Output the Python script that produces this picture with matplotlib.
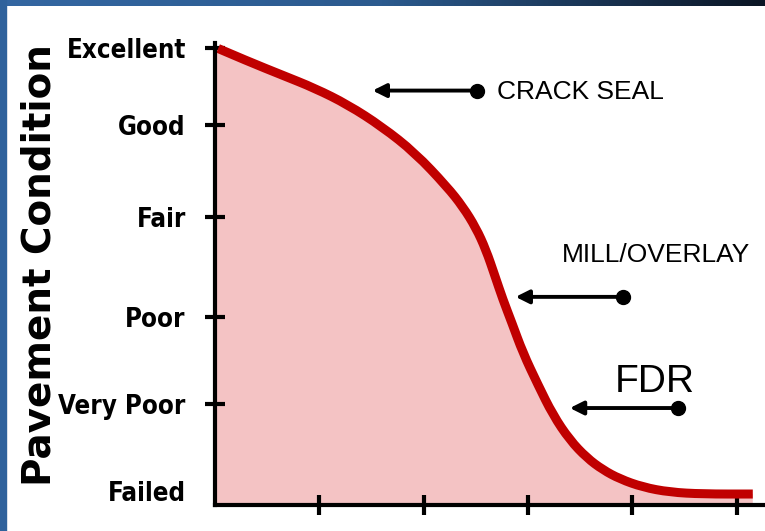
import numpy as np
import matplotlib
matplotlib.use("Agg")
import matplotlib.pyplot as plt
from matplotlib.patches import Rectangle, PathPatch
from matplotlib.path import Path
from matplotlib.colors import LinearSegmentedColormap

# condition levels (0 = failed ... 100 = excellent)
cond_labels = ["Excellent", "Good", "Fair", "Poor", "Very Poor", "Failed"]
cond_levels = [100, 83, 63, 41, 22, 3]
x_ticks = [1, 2, 3, 4, 5]

# deterioration curve
age = [0.03, 0.316, 0.642, 0.958, 1.274, 1.600, 1.916, 2.222, 2.375, 2.500,
       2.596, 2.682, 2.759, 2.845, 2.950, 3.094, 3.238, 3.400, 3.563, 3.716, 3.879,
       4.100, 4.358, 4.674, 5.153]
condition = [99.8, 97.0, 94.0, 91.1, 87.5, 82.7, 77.0, 69.6, 65.2, 60.6,
             55.8, 50.1, 44.9, 39.8, 33.3, 26.3, 19.7, 14.2, 10.3, 7.7, 5.7,
             3.9, 2.8, 2.4, 2.4]

# treatments: label, arrow head, dot, text position
treat_names = ["CRACK SEAL", "MILL/OVERLAY", "FDR"]
treat_head_x = [1.51, 2.88, 3.40]
treat_dot_x = [2.51, 3.91, 4.44]
treat_y = [90.6, 45.5, 21.2]
treat_text_x = [2.70, 3.32, 3.83]
treat_text_y = [90.2, 54.7, 26.9]
treat_size = [19, 19, 28]


def smooth_path(xs, ys):
    # quadratic bezier through midpoints, points act as control points
    pts = np.column_stack([xs, ys])
    verts = [pts[0]]
    codes = [Path.MOVETO]
    for i in range(1, len(pts) - 1):
        mid = (pts[i] + pts[i + 1]) / 2
        verts += [pts[i], mid]
        codes += [Path.CURVE3, Path.CURVE3]
    verts.append(pts[-1])
    codes.append(Path.LINETO)
    return verts, codes


fig = plt.figure(figsize=(7.65, 5.31), dpi=100)

# blue frame (left band + gradient top band)
fig.patches.append(Rectangle((0, 0), 6 / 765, 1, transform=fig.transFigure,
                             color="#2f629c", zorder=0))
bar = fig.add_axes([0, 1 - 6 / 531, 1, 6 / 531])
cm = LinearSegmentedColormap.from_list("frame", ["#3467a2", "#2b5a8e", "#0b1524"])
bar.imshow(np.linspace(0, 1, 256)[None, :], aspect="auto", cmap=cm)
bar.axis("off")

ax = fig.add_axes([215 / 765, 26 / 531, 550 / 765, 462 / 531])
ax.set_xlim(0, 5.27)
ax.set_ylim(0, 101)

verts, codes = smooth_path(age, condition)
fill_verts = [(0, 0), (0, condition[0])] + verts + [(age[-1], 0), (0, 0)]
fill_codes = [Path.MOVETO, Path.LINETO, Path.LINETO] + codes[1:] + [Path.LINETO, Path.CLOSEPOLY]
ax.add_patch(PathPatch(Path(fill_verts, fill_codes), facecolor="#f4c3c4", lw=0, zorder=1))
ax.add_patch(PathPatch(Path(verts, codes), facecolor="none", edgecolor="#c00000",
                       lw=6.5, capstyle="butt", joinstyle="round", zorder=3))

for s in ["top", "right"]:
    ax.spines[s].set_visible(False)
for s in ["left", "bottom"]:
    ax.spines[s].set_linewidth(3)
    ax.spines[s].set_zorder(4)

ax.set_yticks(cond_levels)
ax.set_yticklabels(cond_labels, family="DejaVu Sans", fontstretch="condensed",
                   fontweight="bold", fontsize=18.5)
ax.set_xticks(x_ticks)
ax.set_xticklabels([])
ax.tick_params(axis="both", direction="inout", length=14, width=3)
ax.tick_params(axis="y", pad=14)
ax.yaxis.get_major_ticks()[-1].tick1line.set_visible(False)

for name, hx, dx, y, tx, ty, fs in zip(treat_names, treat_head_x, treat_dot_x,
                                        treat_y, treat_text_x, treat_text_y, treat_size):
    ax.annotate("", xy=(hx, y), xytext=(dx, y),
                arrowprops=dict(arrowstyle="-|>,head_length=0.8,head_width=0.4",
                                color="black", lw=2.8, shrinkA=0, shrinkB=0))
    ax.plot(dx, y, "o", color="black", ms=10, zorder=5)
    ax.text(tx, ty, name, fontsize=fs, family="Liberation Sans", va="center", ha="left")

fig.text(40 / 765, 0.5, "Pavement Condition", rotation=90, ha="center", va="center",
         fontsize=28, fontweight="bold", family="DejaVu Sans")

fig.savefig("out.png", dpi=100)
